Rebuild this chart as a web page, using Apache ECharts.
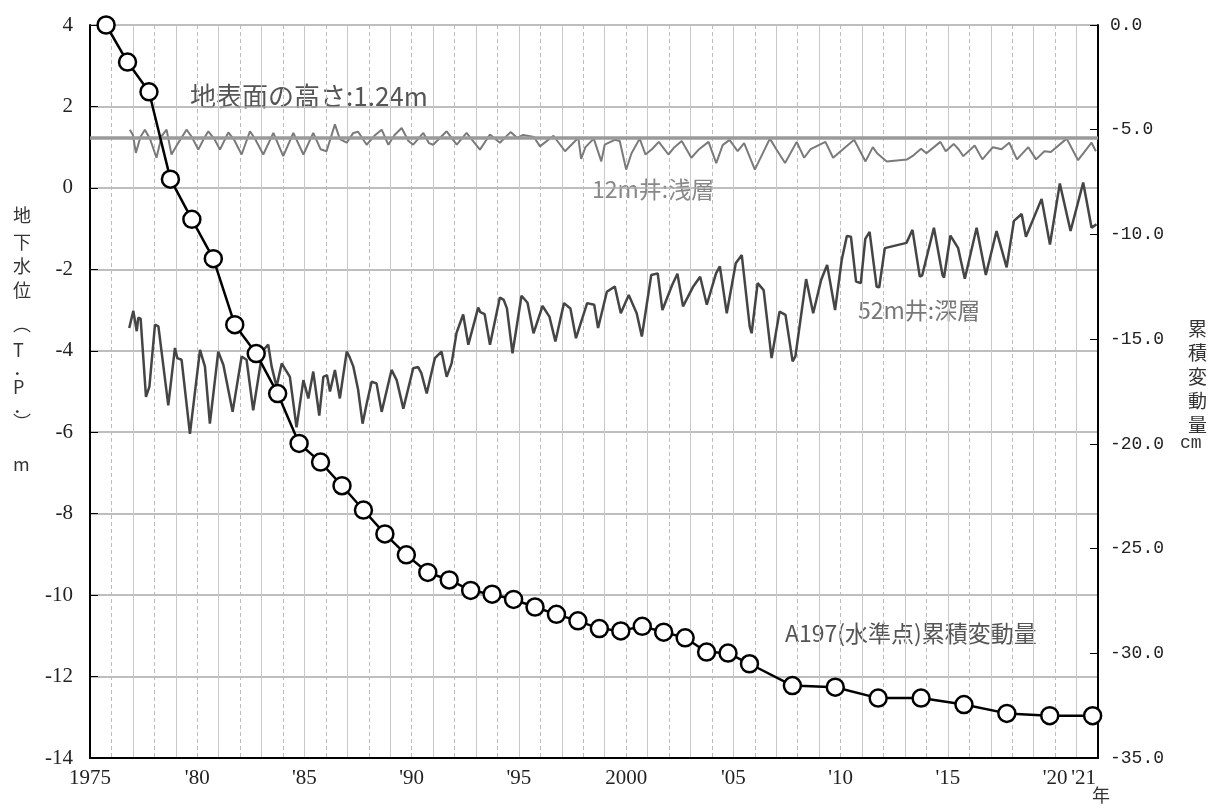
<!DOCTYPE html>
<html><head><meta charset="utf-8">
<script src="https://cdn.jsdelivr.net/npm/echarts@6/dist/echarts.min.js"></script>
<style>html,body{margin:0;padding:0;background:#fff}#c{width:1218px;height:812px}</style>
</head><body><div id="c"></div>
<script>
// ---- data ----
const surveyYears = [1975.75,1976.75,1977.75,1978.75,1979.75,1980.75,1981.75,1982.75,1983.75,1984.75,
  1985.75,1986.75,1987.75,1988.75,1989.75,1990.75,1991.75,1992.75,1993.75,1994.75,
  1995.75,1996.75,1997.75,1998.75,1999.75,2000.75,2001.75,2002.75,2003.75,2004.75,
  2005.75,2007.75,2009.75,2011.75,2013.75,2015.75,2017.75,2019.75,2021.75];
const surveyCm = [0.0,-1.77,-3.19,-7.36,-9.28,-11.16,-14.31,-15.69,-17.6,-19.98,
  -20.87,-22.0,-23.16,-24.3,-25.3,-26.14,-26.5,-27.0,-27.18,-27.43,
  -27.79,-28.14,-28.45,-28.82,-28.93,-28.71,-28.99,-29.26,-29.94,-29.99,
  -30.5,-31.54,-31.62,-32.14,-32.14,-32.45,-32.87,-32.98,-32.98];

const shallowYears = [1976.86,1977.0,1977.14,1977.35,1977.56,1977.8,1978.1,1978.34,1978.57,1978.8,
  1979.05,1979.5,1979.75,1980.05,1980.3,1980.52,1980.8,1981.06,1981.45,1981.7,
  1982.07,1982.46,1982.7,1983.08,1983.55,1984.01,1984.48,1984.95,1985.41,1985.75,
  1986.03,1986.42,1986.65,1986.97,1987.28,1987.5,1987.9,1988.3,1988.6,1988.91,
  1989.2,1989.53,1989.85,1990.07,1990.54,1990.8,1991.0,1991.63,1992.1,1992.56,
  1993.18,1993.65,1994.11,1994.61,1994.91,1995.2,1995.7,1995.98,1996.61,1997.15,
  1997.77,1997.9,1998.1,1998.49,1998.84,1999.0,1999.47,1999.7,2000.0,2000.25,
  2000.63,2000.9,2001.2,2001.52,2001.97,2002.25,2002.59,2003.04,2003.4,2003.84,
  2004.2,2004.5,2004.82,2005.2,2005.5,2006.0,2006.7,2007.0,2007.41,2007.95,
  2008.3,2008.6,2009.29,2009.65,2010.0,2010.63,2011.16,2011.5,2011.7,2012.15,
  2013.1,2013.4,2013.75,2014.0,2014.65,2014.9,2015.27,2015.5,2015.72,2016.25,
  2016.61,2017.1,2017.5,2017.86,2018.22,2018.75,2019.11,2019.5,2019.8,2020.54,
  2021.07,2021.7,2021.9];
const shallowLevels = [1.43,1.30,0.86,1.25,1.43,1.20,0.74,1.27,1.43,0.82,
  1.05,1.43,1.25,0.94,1.20,1.39,1.20,0.94,1.36,1.20,
  0.82,1.39,1.20,0.82,1.35,0.78,1.35,0.82,1.35,0.95,
  0.90,1.56,1.20,1.11,1.35,1.38,1.06,1.30,1.43,1.06,
  1.30,1.47,1.15,1.06,1.35,1.10,1.06,1.39,1.06,1.35,
  0.94,1.31,1.11,1.37,1.23,1.30,1.25,1.02,1.28,0.90,
  1.23,0.71,1.00,1.21,0.65,1.06,1.18,1.15,0.45,0.85,
  1.21,0.82,0.95,1.13,0.82,1.00,1.15,0.74,0.95,1.13,
  0.61,1.05,1.18,0.90,1.10,0.45,1.21,0.95,0.61,1.13,
  0.74,0.95,1.13,0.74,0.90,1.18,0.65,1.00,0.85,0.65,
  0.70,0.80,0.96,0.85,1.13,0.90,1.08,0.95,0.78,1.04,
  0.70,1.00,0.95,1.11,0.70,1.00,0.70,0.90,0.88,1.21,
  0.68,1.11,0.90];

const deepYears = [1976.83,1977.02,1977.18,1977.25,1977.36,1977.61,1977.77,1978.03,1978.19,1978.65,
  1978.96,1979.07,1979.27,1979.66,1980.13,1980.36,1980.59,1980.98,1981.22,1981.65,
  1982.07,1982.3,1982.61,1983.05,1983.31,1983.47,1983.7,1983.94,1984.1,1984.32,
  1984.63,1984.95,1985.18,1985.41,1985.69,1985.88,1986.05,1986.19,1986.42,1986.65,
  1986.97,1987.1,1987.28,1987.5,1987.71,1987.9,1988.13,1988.36,1988.6,1989.06,
  1989.3,1989.61,1990.07,1990.3,1990.45,1990.7,1991.08,1991.39,1991.63,1991.86,
  1992.09,1992.4,1992.64,1993.1,1993.2,1993.4,1993.65,1994.11,1994.29,1994.44,
  1994.7,1995.12,1995.4,1995.68,1996.1,1996.42,1996.7,1997.1,1997.4,1997.66,
  1998.18,1998.51,1998.69,1999.1,1999.47,1999.75,2000.12,2000.49,2000.73,2001.17,
  2001.47,2001.69,2002.15,2002.39,2002.65,2003.13,2003.45,2003.76,2004.19,2004.37,
  2004.69,2005.11,2005.39,2005.76,2005.85,2006.13,2006.41,2006.78,2007.15,2007.43,
  2007.76,2007.89,2008.39,2008.72,2009.09,2009.37,2009.74,2010.05,2010.29,2010.48,
  2010.72,2010.94,2011.15,2011.35,2011.68,2011.8,2012.06,2013.07,2013.35,2013.69,
  2013.8,2014.35,2014.75,2014.82,2015.12,2015.48,2015.79,2016.34,2016.77,2017.27,
  2017.74,2018.08,2018.44,2018.64,2019.37,2019.76,2020.22,2020.72,2021.31,2021.7,
  2021.93];
const deepLevels = [-3.44,-3.02,-3.52,-3.19,-3.21,-5.13,-4.88,-3.36,-3.40,-5.34,
  -3.93,-4.18,-4.22,-6.04,-3.98,-4.39,-5.79,-4.02,-4.35,-5.50,
  -4.14,-4.22,-5.46,-4.00,-3.85,-4.39,-4.88,-4.31,-4.45,-4.64,
  -5.88,-4.72,-5.17,-4.51,-5.59,-4.64,-4.60,-5.00,-4.47,-5.17,
  -4.02,-4.15,-4.39,-4.95,-5.79,-5.30,-4.76,-4.80,-5.50,-4.47,
  -4.72,-5.42,-4.43,-4.40,-4.55,-5.05,-4.18,-4.02,-4.64,-4.31,
  -3.56,-3.11,-3.85,-2.94,-3.05,-3.10,-3.85,-2.69,-2.75,-2.96,
  -4.06,-2.65,-2.82,-3.57,-2.90,-3.16,-3.77,-2.83,-2.96,-3.69,
  -2.83,-2.87,-3.44,-2.55,-2.42,-3.08,-2.63,-3.08,-3.65,-2.14,
  -2.10,-3.00,-2.38,-2.11,-2.91,-2.42,-2.18,-2.87,-2.10,-1.93,
  -3.08,-1.85,-1.65,-3.40,-3.57,-2.34,-2.51,-4.18,-3.04,-3.12,
  -4.26,-4.14,-2.24,-3.08,-2.26,-1.89,-3.00,-1.77,-1.18,-1.20,
  -2.30,-2.34,-1.25,-1.08,-2.43,-2.44,-1.48,-1.35,-1.03,-2.18,
  -2.15,-0.98,-2.14,-2.20,-1.17,-1.48,-2.23,-0.98,-2.14,-1.06,
  -1.95,-0.81,-0.64,-1.20,-0.27,-1.39,0.11,-1.06,0.13,-0.98,
  -0.89];

const groundLevel = 1.24;
const xTickLabels = {1975:'1975',1980:"'80",1985:"'85",1990:"'90",1995:"'95",
  2000:'2000',2005:"'05",2010:"'10",2015:"'15",2020:"'20",2021:"'21"};
const leftTicks = {min:-14, max:4, step:2};
const rightTicks = {min:-35, max:0, step:5};

// ---- chart ----
const NUM = "'Liberation Serif', 'DejaVu Serif', serif";
const MONO = "'Liberation Mono', monospace";
const JP = "'Noto Sans CJK JP', sans-serif";
const zip = (a, b) => a.map((v, i) => [v, b[i]]);

const chart = echarts.init(document.getElementById('c'));
const leftName = ['地','下','水','位','︵','T','．','P','．','︶','m'];
const leftNameY = [217,244,268,292,326,352,370,389,408,424,466];
const rightName = ['累','積','変','動','量'];
const rightNameY = [330,354,378,402,426];

const graphics = [];
leftName.forEach((ch, i) => graphics.push({type:'text', left:13, top:leftNameY[i]-11,
  style:{text:ch, font:"18px " + JP, fill:'#333'}}));
rightName.forEach((ch, i) => graphics.push({type:'text', left:1188, top:rightNameY[i]-11,
  style:{text:ch, font:"19px " + JP, fill:'#333'}}));
graphics.push({type:'text', left:1180, top:434, style:{text:'cm', font:"18px " + MONO, fill:'#333'}});
graphics.push({type:'text', left:1092, top:786, style:{text:'年', font:"18px " + JP, fill:'#333'}});
graphics.push({type:'text', left:190, top:83, style:{text:'地表面の高さ:1.24m', font:"26px " + JP, fill:'#555'}});
graphics.push({type:'text', left:592, top:178, style:{text:'12m井:浅層', font:"23px " + JP, fill:'#888'}});
graphics.push({type:'text', left:858, top:299, style:{text:'52m井:深層', font:"23px " + JP, fill:'#777'}});
graphics.push({type:'text', left:785, top:622, style:{text:'A197(水準点)累積変動量', font:"23px " + JP, fill:'#555'}});

chart.setOption({
  animation: false,
  grid: {left: 90, right: 120, top: 25, bottom: 54},
  xAxis: [{
    type: 'value', min: 1975, max: 2022, interval: 1,
    axisLine: {onZero: false, lineStyle: {color: '#000', width: 2}},
    axisTick: {show: false},
    axisLabel: {
      fontFamily: NUM, fontSize: 21, color: '#222', margin: 10,
      showMaxLabel: false,
      formatter: v => {
        const t = xTickLabels[Math.round(v)];
        if (!t) return '';
        return Math.round(v) === 2021 ? '{r|' + t + '}' : t;
      },
      rich: {r: {fontFamily: NUM, fontSize: 21, color: '#222', padding: [0, 0, 0, 14]}}
    },
    splitLine: {show: true, lineStyle: {color: '#bdbdbd', width: 1, type: [4, 3]}}
  }, {
    type: 'value', min: 1975, max: 2022, interval: 2, position: 'bottom',
    axisLine: {show: false, onZero: false}, axisTick: {show: false}, axisLabel: {show: false},
    splitLine: {show: true, lineStyle: {color: '#c8c8c8', width: 1}}
  }],
  yAxis: [{
    type: 'value', min: leftTicks.min, max: leftTicks.max, interval: leftTicks.step,
    axisLine: {show: true, onZero: false, lineStyle: {color: '#000', width: 2}},
    axisTick: {show: true, inside: true, length: 8, lineStyle: {color: '#000'}},
    axisLabel: {fontFamily: NUM, fontSize: 21, color: '#222', margin: 17},
    splitLine: {show: true, lineStyle: {color: '#a8a8a8', width: 1.5}}
  }, {
    type: 'value', min: rightTicks.min, max: rightTicks.max, interval: rightTicks.step, position: 'right',
    axisLine: {show: true, onZero: false, lineStyle: {color: '#000', width: 2}},
    axisTick: {show: true, inside: true, length: 8, lineStyle: {color: '#000'}},
    axisLabel: {fontFamily: MONO, fontSize: 18, color: '#222', margin: 12,
      formatter: v => v.toFixed(1)},
    splitLine: {show: false}
  }],
  series: [{
    name: '12m井:浅層', type: 'line', data: zip(shallowYears, shallowLevels),
    showSymbol: false, symbol: 'none', lineStyle: {color: '#7a7a7a', width: 2}, z: 3,
    markLine: {silent: true, symbol: 'none', label: {show: false},
      lineStyle: {color: '#9a9a9a', width: 3.5, type: 'solid'},
      data: [{yAxis: groundLevel}]}
  }, {
    name: '52m井:深層', type: 'line', data: zip(deepYears, deepLevels),
    showSymbol: false, symbol: 'none', lineStyle: {color: '#454545', width: 2.5}, z: 4
  }, {
    name: 'A197(水準点)累積変動量', type: 'line', yAxisIndex: 1, data: zip(surveyYears, surveyCm),
    symbol: 'circle', symbolSize: 17, clip: false,
    itemStyle: {color: '#fff', borderColor: '#000', borderWidth: 2.5},
    lineStyle: {color: '#000', width: 2.5}, z: 5
  }],
  graphic: graphics
});
</script>
</body></html>
